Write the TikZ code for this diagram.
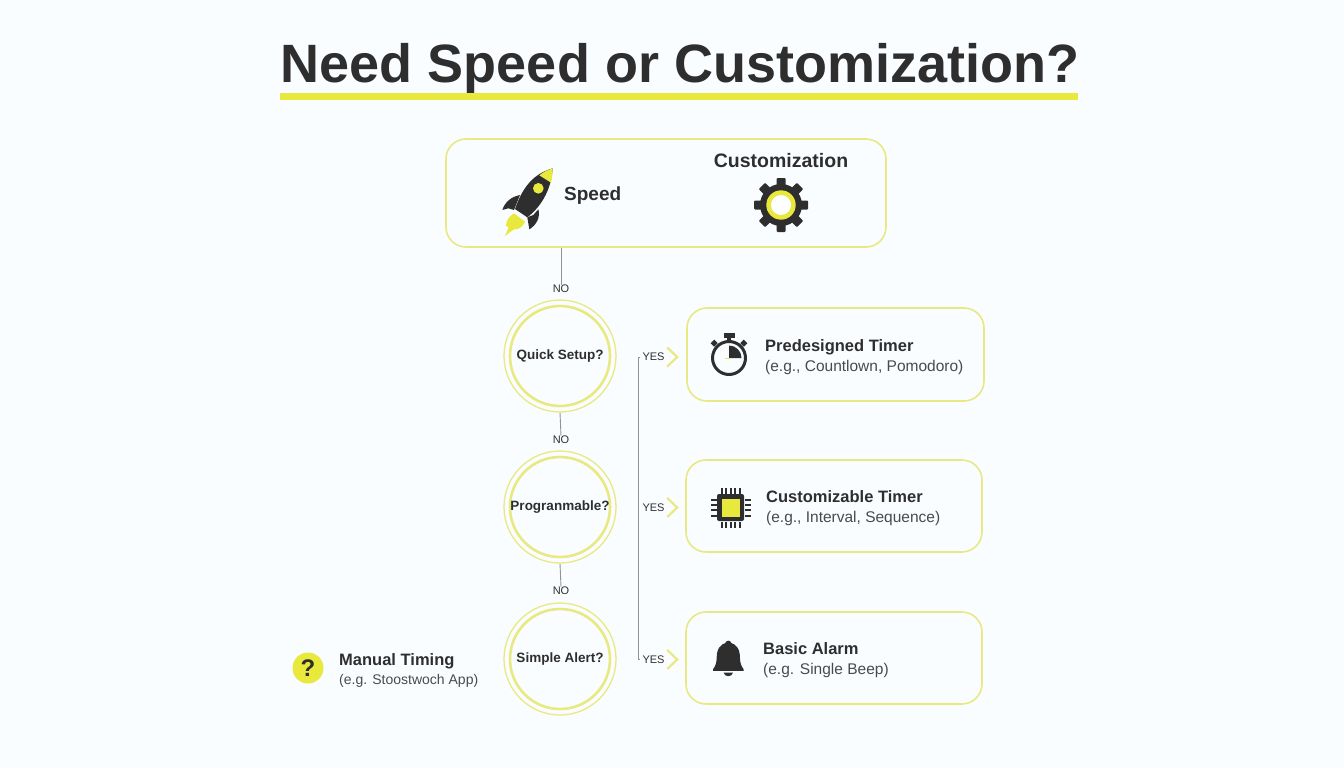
\documentclass[tikz,border=0pt]{standalone}
\usepackage{fontspec}
\setmainfont{Liberation Sans}
\usepackage{xcolor}
\usetikzlibrary{calc}

\definecolor{lemon}{HTML}{E9E83C}
\definecolor{paleline}{HTML}{E9E982}
\definecolor{ink}{HTML}{2E2E2E}
\definecolor{softink}{HTML}{4A4A4A}

\begin{document}
\begin{tikzpicture}[x=1pt,y=-1pt]
    \tikzstyle{panel}=[draw=paleline,line width=1.6pt,rounded corners=20pt,inner sep=0pt]
    \tikzstyle{inner ring}=[draw=paleline,line width=2.6pt,circle,minimum size=100pt,inner sep=0pt,text=ink,font=\fontsize{13.5}{16}\selectfont\bfseries]
    \tikzstyle{outer ring}=[draw=paleline,line width=1.3pt,circle,minimum size=112pt,inner sep=0pt]
    \tikzstyle{head}=[anchor=base west,inner sep=0pt,text=ink,font=\fontsize{16.5}{20}\selectfont\bfseries]
    \tikzstyle{sub}=[anchor=base west,inner sep=0pt,text=softink,font=\fontsize{15.5}{19}\selectfont]
    \tikzstyle{tag}=[inner sep=0pt,text=ink,font=\fontsize{11}{13}\selectfont]
    \tikzstyle{link}=[draw=gray!85,line width=0.9pt]
    \tikzstyle{chevron}=[draw=paleline,line width=2.2pt]

    \useasboundingbox (0,0) rectangle (1344,768);
    \fill[white!98!cyan] (0,0) rectangle (1344,768);

    % Title
    \node[anchor=base,inner sep=0pt,text=ink,font=\fontsize{54}{60}\selectfont\bfseries] (title) at (680,82) {Need Speed or Customization?};
    \fill[lemon] (280,93) rectangle (1078,100);

    % Top panel
    \node[panel,minimum width=440pt,minimum height=108pt] (choice) at (666,193) {};
    \node[anchor=base west,inner sep=0pt,text=ink,font=\fontsize{19}{22}\selectfont\bfseries] (speed) at (564,200) {Speed};
    \node[anchor=base,inner sep=0pt,text=ink,font=\fontsize{19.5}{23}\selectfont\bfseries] (custom) at (781,167) {Customization};

    % Rocket
    \begin{scope}[shift={(440,130)},scale=0.3333]
        \fill[ink] (338,115) .. controls (285,130) and (250,165) .. (225,237) -- (262,262) .. controls (310,225) and (335,170) .. (338,115) -- cycle;
        \fill[lemon] (338,115) .. controls (322,120) and (310,126) .. (298,136) -- (333,158) .. controls (336,145) and (338,130) .. (338,115) -- cycle;
        \fill[lemon] (295,175) circle (16);
        \fill[ink] (187,240) .. controls (195,215) and (215,200) .. (240,195) -- (222,240) -- (205,235) -- cycle;
        \fill[ink] (295,238) .. controls (302,260) and (290,285) .. (268,298) -- (262,262) -- (280,255) -- cycle;
        \fill[lemon] (222,250) -- (255,275) .. controls (250,290) and (235,300) .. (222,298) -- (195,318) -- (206,292) -- (198,288) .. controls (198,272) and (208,258) .. (222,250) -- cycle;
    \end{scope}

    % Gear
    \begin{scope}[shift={(781,205)}]
        \foreach \ang in {0,45,...,315} {
            \fill[ink,rotate=\ang,rounded corners=1pt] (-4.5,-27) rectangle (4.5,-15);
        }
        \fill[ink] (0,0) circle (21);
        \fill[lemon] (0,0) circle (14.7);
        \fill[white] (0,0) circle (10);
    \end{scope}

    % Decisions
    \node[inner ring] (quick) at (560,356) {Quick Setup?};
    \node[outer ring] (quickout) at (560,356) {};
    \node[inner ring] (prog) at (560,507) {Progranmable?};
    \node[outer ring] (progout) at (560,507) {};
    \node[inner ring] (alert) at (560,659) {Simple Alert?};
    \node[outer ring] (alertout) at (560,659) {};

    % NO labels and links
    \node[tag] (noa) at (561,289) {NO};
    \node[tag] (nob) at (561,440) {NO};
    \node[tag] (noc) at (561,591) {NO};
    \coordinate (choiceout) at (choice.south -| noa);
    \draw[link] (choiceout) -- (noa.north);
    \draw[link] (quickout.south) -- (nob.north);
    \draw[link] (progout.south) -- (noc.north);

    % YES labels and trunk
    \node[tag] (yesa) at (653.5,357) {YES};
    \node[tag] (yesb) at (653.5,507.5) {YES};
    \node[tag] (yesc) at (653.5,659.5) {YES};
    \coordinate (trunktop) at (638,357);
    \coordinate (trunkbot) at (638,659.5);
    \draw[link] ($(yesa.west)+(-2,0)$) -- (trunktop) -- (trunkbot) -- ($(yesc.west)+(-2,0)$);
    \foreach \tagname in {yesa,yesb,yesc} {
        \draw[chevron] ($(\tagname.east)+(2.5,-9.5)$) -- ++(10,9.5) -- ++(-10,9.5);
    }

    % Result panels
    \node[panel,minimum width=297pt,minimum height=93pt] (predbox) at (835.5,354.5) {};
    \node[panel,minimum width=296pt,minimum height=92pt] (custbox) at (834,506) {};
    \node[panel,minimum width=296pt,minimum height=92pt] (alarmbox) at (834,658) {};

    \node[head] (predhead) at (765,351) {Predesigned Timer};
    \node[sub] (predsub) at (765,371) {(e.g., Countlown, Pomodoro)};
    \node[head] (custhead) at (766,502) {Customizable Timer};
    \node[sub] (custsub) at (766,522) {(e.g., Interval, Sequence)};
    \node[head] (alarmhead) at (763,654) {Basic Alarm};
    \node[sub] (alarmsub) at (763,674) {(e.g. Single Beep)};

    % Stopwatch
    \begin{scope}[shift={(729,358)}]
        \draw[ink,line width=3pt] (0,0) circle (16.5);
        \fill[ink] (-5.5,-25) rectangle (5.5,-20);
        \fill[ink] (-2,-21) rectangle (2,-15);
        \fill[ink,rotate=-45] (-2.5,-23.5) rectangle (2.5,-18.5);
        \fill[ink,rotate=45] (-2.5,-23.5) rectangle (2.5,-18.5);
        \fill[lemon] (0,0) rectangle (-4,1);
        \fill[ink] (0,0) -- (0,-12.5) arc (-90:0:12.5) -- cycle;
    \end{scope}

    % Chip
    \begin{scope}[shift={(730.5,507.5)}]
        \foreach \pos in {-9,-4.5,0,4.5,9} {
            \fill[ink] (\pos-1,-20) rectangle (\pos+1,-14);
            \fill[ink] (\pos-1,14) rectangle (\pos+1,20);
        }
        \foreach \pos in {-8,-2.7,2.7,8} {
            \fill[ink] (-20,\pos-1) rectangle (-14,\pos+1);
            \fill[ink] (14,\pos-1) rectangle (20,\pos+1);
        }
        \fill[ink,rounded corners=2pt] (-13.5,-13.5) rectangle (13.5,13.5);
        \fill[lemon] (-9,-9) rectangle (9,9);
    \end{scope}

    % Bell
    \begin{scope}[shift={(680,450)},scale=0.3333]
        \fill[ink] (145,582) circle (10);
        \fill[ink] (145,578) .. controls (118,580) and (110,600) .. (110,625) .. controls (110,640) and (105,650) .. (99,658) -- (99,663) -- (191,663) -- (191,658) .. controls (185,650) and (180,640) .. (180,625) .. controls (180,600) and (172,580) .. (145,578) -- cycle;
        \fill[ink] (131,668) -- (159,668) .. controls (157,682) and (133,682) .. (131,668) -- cycle;
    \end{scope}

    % Manual timing
    \node[circle,fill=lemon,minimum size=31pt,inner sep=0pt,text=ink,font=\fontsize{24}{28}\selectfont\bfseries] (manualicon) at (308,668) {?};
    \node[head] (manualhead) at (339,665) {Manual Timing};
    \node[sub,font=\fontsize{14}{17}\selectfont] (manualsub) at (339,684) {(e.g. Stoostwoch App)};
\end{tikzpicture}
\end{document}
